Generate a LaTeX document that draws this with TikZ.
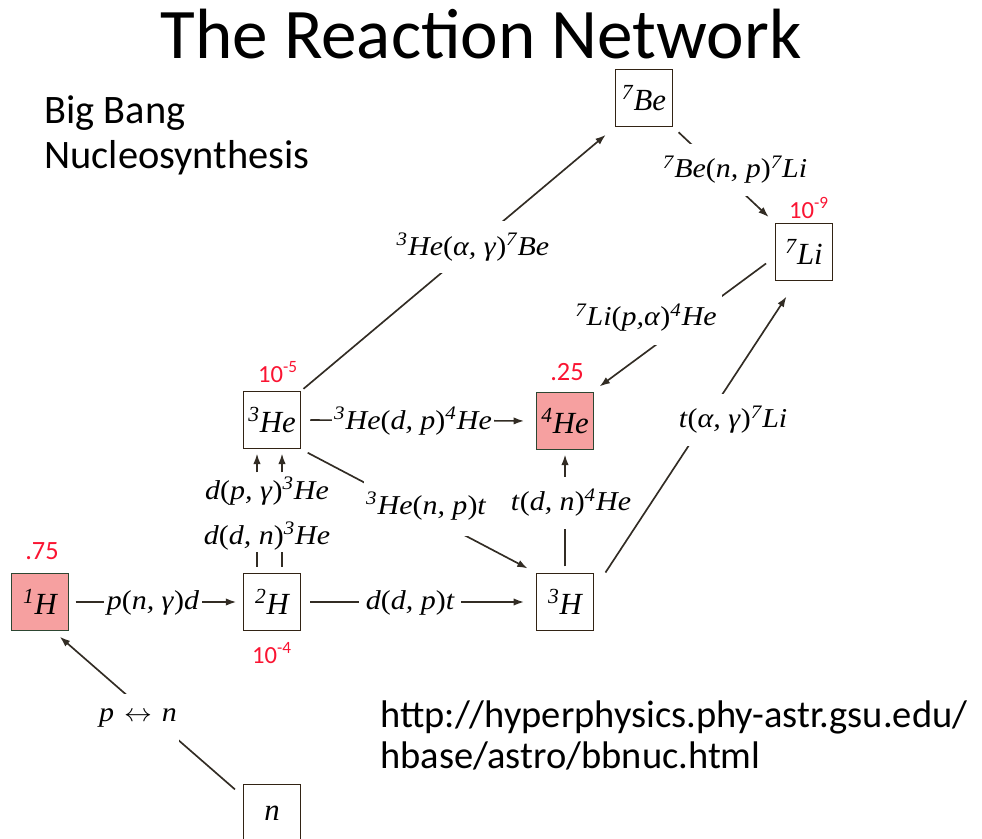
\documentclass[tikz,border=0pt]{standalone}
\usepackage{graphicx}
\usepackage{fontspec}
\setmainfont{Carlito}
\newfontfamily\tms{Liberation Serif}
\usetikzlibrary{arrows.meta}
\definecolor{pinkfill}{RGB}{246,160,160}
\definecolor{redtxt}{RGB}{250,20,50}
\definecolor{boxedge}{RGB}{50,35,20}
\definecolor{greenedge}{RGB}{45,70,50}
\definecolor{conncol}{RGB}{50,44,36}
\newcommand\rx[1]{\scalebox{1.1}[1]{\tms\itshape #1}}
\newcommand\bx[1]{{\tms\itshape #1}}
\newcommand\su[1]{\textsuperscript{#1}}
\newcommand\lp{\textup{(}}
\newcommand\rp{\textup{)}}
\tikzset{
  box/.style={draw=boxedge, line width=1.1pt, fill=white, minimum width=1.14cm,
    minimum height=1.14cm, inner sep=0pt, font=\fontsize{17.5}{17.5}\selectfont},
  hot/.style={box, draw=greenedge, fill=pinkfill},
  rxn/.style={fill=white, inner sep=1pt, font=\fontsize{15.5}{15.5}\selectfont},
  conn/.style={draw=conncol, line width=0.95pt},
  arr/.style={conn, -{Latex[length=6pt,width=4.2pt]}},
  abund/.style={text=redtxt, inner sep=0pt, font=\fontsize{14}{14}\selectfont},
  slidetext/.style={anchor=base west, inner sep=0pt}
}
\begin{document}
\begin{tikzpicture}[x=0.02cm,y=-0.02cm]
\useasboundingbox (0,0) rectangle (982,838);
% titles
\node[anchor=base, inner sep=0pt, font=\fontsize{40.5}{40.5}\selectfont] (title) at (481,59) {The Reaction Network};
\node[slidetext, font=\fontsize{23}{23}\selectfont] (bb1) at (44,123) {Big Bang};
\node[slidetext, font=\fontsize{23}{23}\selectfont] (bb2) at (44,168) {Nucleosynthesis};
\node[slidetext, font=\fontsize{21.9}{21.9}\selectfont] (url1) at (380,727) {http://hyperphysics.phy-astr.gsu.edu/};
\node[slidetext, font=\fontsize{21.9}{21.9}\selectfont] (url2) at (380,768) {hbase/astro/bbnuc.html};
% boxes
\node[box] (Be7) at (644,98) {\bx{\su{7}Be}};
\node[box] (Li7) at (804,252) {\bx{\su{7}Li}};
\node[box] (He3) at (272,420) {\bx{\su{3}He}};
\node[hot] (He4) at (565,421) {\bx{\su{4}He}};
\node[hot] (H1) at (40,602) {\bx{\su{1}H}};
\node[box] (H2) at (272,602) {\bx{\su{2}H}};
\node[box] (H3) at (565,602) {\bx{\su{3}H}};
\node[box] (n) at (272,813) {\bx{n}};
% connectors
\draw[arr, shorten <=1.5pt, shorten >=6.5pt] (He3.north east) -- (Be7.south west);
\draw[arr, shorten <=4pt, shorten >=4.5pt] (Be7.south east) -- (Li7.north west);
\draw[arr, shorten <=6pt] (Li7.190) -- ([xshift=0.1cm,yshift=0.1cm]He4.north east);
\draw[arr] ([xshift=0.22cm]H3.north east) -- ([xshift=0.24cm,yshift=-0.3cm]Li7.south west);
\draw[arr, shorten <=5pt, shorten >=6.5pt] (He3.east) -- (He4.west);
\draw[arr, shorten <=4pt, shorten >=5pt] (He3.south east) -- (H3.north west);
\draw[arr, shorten <=3.5pt, shorten >=2.3pt] (H3.north) -- (He4.south);
\draw[arr, shorten <=3.5pt, shorten >=3.5pt] (H1.east) -- (H2.west);
\draw[arr, shorten <=5pt, shorten >=6.5pt] (H2.east) -- (H3.west);
\draw[arr, shorten <=5.7pt, shorten >=4.5pt] (n.150) -- (H1.-65);
\draw[conn] ([xshift=-0.3cm]H2.north) ++(0,-6) -- ++(0,-15);
\draw[conn] ([xshift=0.2cm]H2.north) ++(0,-6) -- ++(0,-15);
\draw[arr] ([xshift=-0.3cm]He3.south) ++(0,23) -- ++(0,-19);
\draw[arr] ([xshift=0.2cm]He3.south) ++(0,23) -- ++(0,-19);
% reaction labels
\node[rxn, inner ysep=7pt] (L1) at (473,247) {\rx{\su{3}He\lp α, γ\rp\su{7}Be}};
\node[rxn, inner ysep=7pt] (L2) at (735,170) {\rx{\su{7}Be\lp n, p\rp\su{7}Li}};
\node[rxn, inner ysep=7.5pt, inner xsep=3pt] (L3) at (646,318) {\rx{\su{7}Li\lp p,α\rp\su{4}He}};
\node[rxn, inner ysep=7pt] (L4) at (733,420) {\rx{t\lp α, γ\rp\su{7}Li}};
\node[rxn, inner xsep=1pt] (L5) at (413,421) {\rx{\su{3}He\lp d, p\rp\su{4}He}};
\node[rxn] (L6) at (267,491) {\rx{d\lp p, γ\rp\su{3}He}};
\node[rxn] (L7) at (267,536) {\rx{d\lp d, n\rp\su{3}He}};
\node[rxn, inner ysep=9pt] (L8) at (426,506) {\rx{\su{3}He\lp n, p\rp t}};
\node[rxn, inner ysep=7pt] (L9) at (571,503) {\rx{t\lp d, n\rp\su{4}He}};
\node[rxn, inner xsep=1.7pt] (L10) at (153,603) {\rx{p\lp n, γ\rp d}};
\node[rxn, inner xsep=4pt] (L11) at (410,603) {\rx{d\lp d, p\rp t}};
\node[rxn, inner ysep=8.5pt] (L12) at (138,718) {\rx{p\,\,$\leftrightarrow$\,\,n}};
% abundances
\node[abund, font=\fontsize{15}{15}\selectfont] (a75) at (42,551) {.75};
\node[abund, font=\fontsize{15}{15}\selectfont] (a25) at (567,372) {.25};
\node[abund] (a5) at (278,372) {10\su{-5}};
\node[abund] (a9) at (809,208) {10\su{-9}};
\node[abund] (a4) at (272,653) {10\su{-4}};
\end{tikzpicture}
\end{document}
